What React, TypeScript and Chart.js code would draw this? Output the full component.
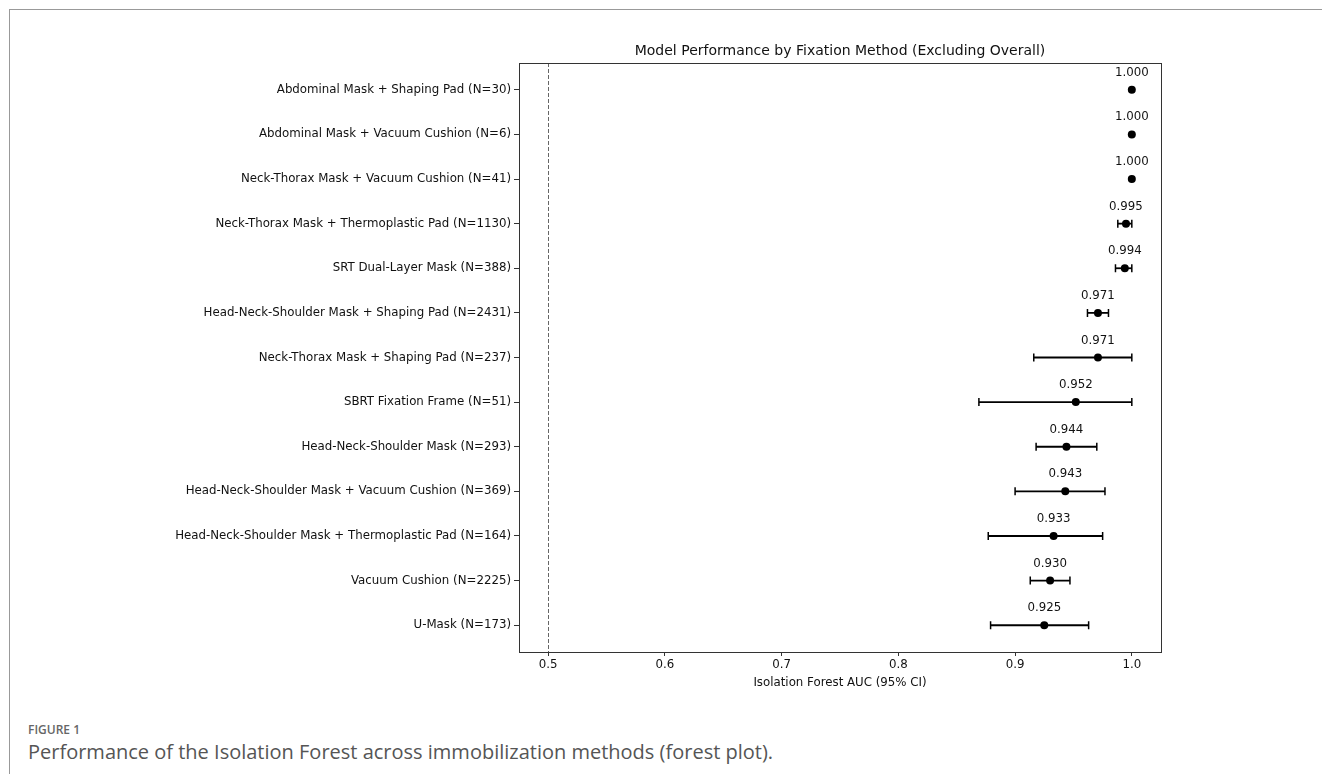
import React, { useEffect, useRef } from "react";
import { Chart, registerables } from "chart.js";

Chart.register(...registerables);

// Fixation methods, top to bottom
const methods = [
  "Abdominal Mask + Shaping Pad (N=30)",
  "Abdominal Mask + Vacuum Cushion (N=6)",
  "Neck-Thorax Mask + Vacuum Cushion (N=41)",
  "Neck-Thorax Mask + Thermoplastic Pad (N=1130)",
  "SRT Dual-Layer Mask (N=388)",
  "Head-Neck-Shoulder Mask + Shaping Pad (N=2431)",
  "Neck-Thorax Mask + Shaping Pad (N=237)",
  "SBRT Fixation Frame (N=51)",
  "Head-Neck-Shoulder Mask (N=293)",
  "Head-Neck-Shoulder Mask + Vacuum Cushion (N=369)",
  "Head-Neck-Shoulder Mask + Thermoplastic Pad (N=164)",
  "Vacuum Cushion (N=2225)",
  "U-Mask (N=173)",
];

// Isolation Forest AUC and 95% confidence interval per method
const auc = [1.0, 1.0, 1.0, 0.995, 0.994, 0.971, 0.971, 0.952, 0.944, 0.943, 0.933, 0.93, 0.925];
const ciLower = [1.0, 1.0, 1.0, 0.988, 0.986, 0.962, 0.916, 0.869, 0.918, 0.9, 0.877, 0.913, 0.879];
const ciUpper = [1.0, 1.0, 1.0, 1.0, 1.0, 0.98, 1.0, 1.0, 0.97, 0.977, 0.975, 0.947, 0.963];

const xTicks = [0.5, 0.6, 0.7, 0.8, 0.9, 1.0];
const chanceAuc = 0.5;

const FONT = "'DejaVu Sans', sans-serif";
const LABEL_SIZE = 11.8;

const forestPlugin = {
  id: "forestPlot",
  beforeDatasetsDraw(chart: any) {
    const { ctx, chartArea, scales } = chart;
    const xs = scales.x;
    const ys = scales.y;
    ctx.save();
    // chance line
    ctx.strokeStyle = "#666";
    ctx.lineWidth = 1;
    ctx.setLineDash([4, 2]);
    const cx = Math.round(xs.getPixelForValue(chanceAuc)) + 0.5;
    ctx.beginPath();
    ctx.moveTo(cx, chartArea.top);
    ctx.lineTo(cx, chartArea.bottom);
    ctx.stroke();
    ctx.setLineDash([]);
    // confidence intervals
    ctx.strokeStyle = "#000";
    methods.forEach((_, i) => {
      if (ciUpper[i] - ciLower[i] <= 0) return;
      const y = ys.getPixelForValue(i);
      const x1 = xs.getPixelForValue(ciLower[i]);
      const x2 = xs.getPixelForValue(ciUpper[i]);
      ctx.lineWidth = 1.8;
      ctx.beginPath();
      ctx.moveTo(x1, y);
      ctx.lineTo(x2, y);
      ctx.stroke();
      ctx.lineWidth = 1.5;
      ctx.beginPath();
      ctx.moveTo(x1, y - 4);
      ctx.lineTo(x1, y + 4);
      ctx.moveTo(x2, y - 4);
      ctx.lineTo(x2, y + 4);
      ctx.stroke();
    });
    ctx.restore();
  },
  afterDatasetsDraw(chart: any) {
    const { ctx, chartArea, scales } = chart;
    const xs = scales.x;
    const ys = scales.y;
    ctx.save();
    // value labels above each point
    ctx.fillStyle = "#111";
    ctx.font = `${LABEL_SIZE}px ${FONT}`;
    ctx.textAlign = "center";
    ctx.textBaseline = "middle";
    methods.forEach((_, i) => {
      ctx.fillText(auc[i].toFixed(3), xs.getPixelForValue(auc[i]), ys.getPixelForValue(i) - 17);
    });
    // axes frame
    ctx.strokeStyle = "#333";
    ctx.lineWidth = 1;
    ctx.strokeRect(
      Math.round(chartArea.left) + 0.5,
      Math.round(chartArea.top) + 0.5,
      Math.round(chartArea.right - chartArea.left),
      Math.round(chartArea.bottom - chartArea.top)
    );
    // title and axis label
    const midX = (chartArea.left + chartArea.right) / 2;
    ctx.fillStyle = "#111";
    ctx.font = `14px ${FONT}`;
    ctx.textBaseline = "alphabetic";
    ctx.fillText("Model Performance by Fixation Method (Excluding Overall)", midX, chartArea.top - 8);
    ctx.font = `${LABEL_SIZE}px ${FONT}`;
    ctx.textBaseline = "middle";
    ctx.fillText("Isolation Forest AUC (95% CI)", midX, chartArea.bottom + 31);
    ctx.restore();
  },
};

export default function App() {
  const canvasRef = useRef<HTMLCanvasElement | null>(null);

  useEffect(() => {
    const canvas = canvasRef.current;
    if (!canvas) return;
    const chart = new Chart(canvas, {
      type: "scatter",
      data: {
        datasets: [
          {
            data: auc.map((v, i) => ({ x: v, y: i })),
            pointRadius: 4,
            pointHoverRadius: 4,
            pointBackgroundColor: "#000",
            pointBorderWidth: 0,
            showLine: false,
          },
        ],
      },
      options: {
        animation: false,
        responsive: false,
        maintainAspectRatio: false,
        events: [],
        layout: { padding: { top: 63, right: 161, bottom: 8, left: 0 } },
        plugins: {
          legend: { display: false },
          tooltip: { enabled: false },
          title: { display: false },
        },
        scales: {
          x: {
            type: "linear",
            min: 0.475,
            max: 1.025,
            afterBuildTicks: (scale: any) => {
              scale.ticks = xTicks.map((v) => ({ value: v }));
            },
            afterFit: (scale: any) => {
              scale.height = 40;
            },
            ticks: {
              callback: (v: any) => Number(v).toFixed(1),
              color: "#111",
              font: { family: FONT, size: LABEL_SIZE },
              padding: 2,
              maxRotation: 0,
              autoSkip: false,
            },
            grid: { display: true, drawOnChartArea: false, drawTicks: true, tickLength: 4, color: "#333" },
            border: { display: false },
          },
          y: {
            type: "linear",
            min: -0.6,
            max: 12.6,
            reverse: true,
            afterBuildTicks: (scale: any) => {
              scale.ticks = methods.map((_, i) => ({ value: i }));
            },
            afterFit: (scale: any) => {
              scale.width = 519;
            },
            ticks: {
              callback: (v: any) => methods[Math.round(Number(v))] ?? "",
              color: "#111",
              font: { family: FONT, size: LABEL_SIZE },
              padding: 3,
              autoSkip: false,
            },
            grid: { display: true, drawOnChartArea: false, drawTicks: true, tickLength: 5, color: "#333" },
            border: { display: false },
          },
        },
      },
      plugins: [forestPlugin],
    });
    return () => chart.destroy();
  }, []);

  return (
    <div
      style={{
        position: "fixed",
        left: 0,
        top: 0,
        width: 1322,
        height: 774,
        background: "#fff",
        overflow: "hidden",
      }}
    >
      <div style={{ position: "absolute", left: 9, top: 9, width: 1313, height: 1, background: "#999" }} />
      <div style={{ position: "absolute", left: 9, top: 9, width: 1, height: 765, background: "#999" }} />
      <canvas
        ref={canvasRef}
        width={1322}
        height={700}
        style={{ position: "absolute", left: 0, top: 0, width: 1322, height: 700 }}
      />
      <div
        style={{
          position: "absolute",
          left: 28,
          top: 721,
          lineHeight: "18px",
          fontFamily: "'Open Sans', sans-serif",
          fontSize: 12,
          fontWeight: 600,
          color: "#666",
        }}
      >
        FIGURE 1
      </div>
      <div
        style={{
          position: "absolute",
          left: 28,
          top: 739,
          lineHeight: "26px",
          fontFamily: "'Open Sans', sans-serif",
          fontSize: 20,
          color: "#555",
          whiteSpace: "nowrap",
        }}
      >
        Performance of the Isolation Forest across immobilization methods (forest plot).
      </div>
    </div>
  );
}
